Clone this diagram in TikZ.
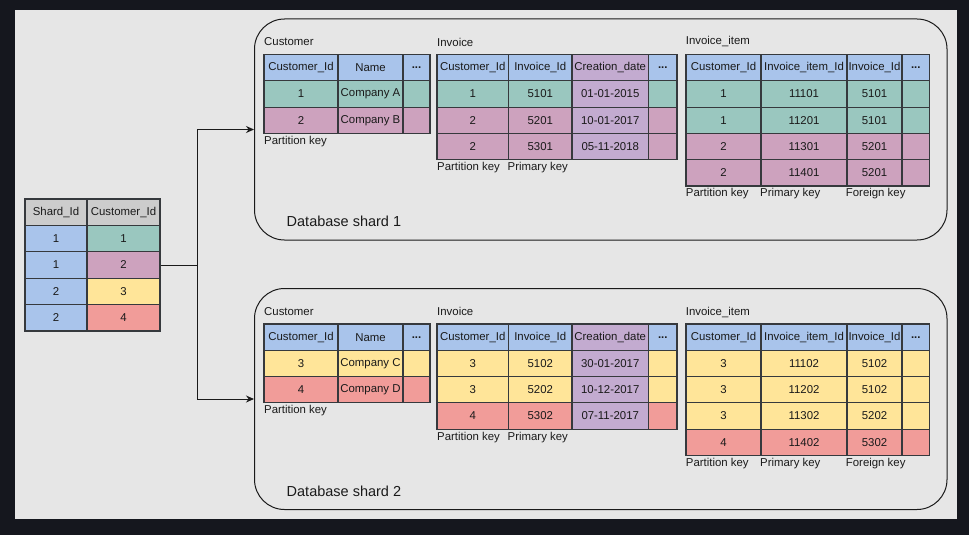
\documentclass[tikz,border=0pt]{standalone}
\usepackage{fontspec}
\setmainfont{Liberation Sans}
\usetikzlibrary{arrows.meta}
\definecolor{darkbg}{HTML}{15171E}
\definecolor{lightbg}{HTML}{E6E6E6}
\definecolor{blu}{HTML}{A9C4EB}
\definecolor{grn}{HTML}{9AC7BF}
\definecolor{pnk}{HTML}{CDA2BE}
\definecolor{yel}{HTML}{FFE599}
\definecolor{rdd}{HTML}{F19C99}
\definecolor{prp}{HTML}{C3ABD0}
\definecolor{gry}{HTML}{CCCCCC}
\definecolor{tabline}{HTML}{36393D}
\definecolor{txt}{HTML}{1A1A1A}
\newcommand\trow[4]{%
  \foreach \xa/\xb/\f/\t [count=\i] in {#4} {%
    \node[tcell, fill=\f, minimum width={(\xb-\xa)*1pt}, minimum height={(#3-#2)*1pt}]
      (#1-\i) at ({(\xa+\xb)/2},{(#2+#3)/2}) {\t};}}
\begin{document}
\begin{tikzpicture}[x=1pt,y=-1pt,
  tcell/.style={draw=tabline, line width=1.1pt, inner sep=0pt, text=txt,
    font=\fontsize{11.4}{13}\selectfont},
  lbl/.style={anchor=west, inner sep=0pt, text=txt, font=\fontsize{11.4}{13}\selectfont},
  biglbl/.style={anchor=west, inner sep=0pt, text=txt, font=\fontsize{14.5}{17}\selectfont},
  shardbox/.style={draw=txt, line width=1pt, rounded corners=30pt, inner sep=0pt},
  conn/.style={draw=txt, line width=1pt},
  tip/.style={-{Stealth[length=8pt,width=7pt]}}]
\useasboundingbox (0,0) rectangle (969,535);
\fill[darkbg] (0,0) rectangle (969,535);
\fill[lightbg] (15,10) rectangle (957,519);

% shard boxes
\node[shardbox, minimum width=692.5pt, minimum height=221pt] (shard1) at ({(254.5+947)/2},{(19+240)/2}) {};
\node[shardbox, minimum width=692.5pt, minimum height=221pt] (shard2) at ({(254.5+947)/2},{(288.5+509.5)/2}) {};
\node[biglbl] (shard1lbl) at (286.5,221) {Database shard 1};
\node[biglbl] (shard2lbl) at (286.5,491) {Database shard 2};

% shard map table
\trow{sh}{199}{225.4}{25/87/gry/Shard\_Id, 87/160/gry/Customer\_Id}
\trow{s1}{225.4}{251.8}{25/87/blu/1, 87/160/grn/1}
\trow{s2}{251.8}{278.2}{25/87/blu/1, 87/160/pnk/2}
\trow{s3}{278.2}{304.6}{25/87/blu/2, 87/160/yel/3}
\trow{s4}{304.6}{331}{25/87/blu/2, 87/160/rdd/4}

% connectors
\coordinate (junc) at (197,265);
\draw[conn] (s2-2.east) -- (junc);
\draw[conn, tip] (junc) |- (shard1.west);
\draw[conn, tip] (junc) |- (shard2.west);

% ===== shard 1 =====
\node[lbl] (c1t) at (264,42) {Customer};
\trow{c1h}{54.5}{80.8}{264/338/blu/Customer\_Id, 338/403/blu/Name, 403/430/blu/\textbf{...}}
\trow{c1a}{80.8}{107.1}{264/338/grn/1, 338/403/grn/Company A, 403/430/grn/}
\trow{c1b}{107.1}{133.4}{264/338/pnk/2, 338/403/pnk/Company B, 403/430/pnk/}
\node[lbl] (c1k) at (264,142) {Partition key};

\node[lbl] (i1t) at (437,42) {Invoice};
\trow{i1h}{54.5}{80.8}{437/508.5/blu/Customer\_Id, 508.5/572/blu/Invoice\_Id, 572/648.5/prp/Creation\_date, 648.5/677/blu/\textbf{...}}
\trow{i1a}{80.8}{107.1}{437/508.5/grn/1, 508.5/572/grn/5101, 572/648.5/prp/01-01-2015, 648.5/677/grn/}
\trow{i1b}{107.1}{133.4}{437/508.5/pnk/2, 508.5/572/pnk/5201, 572/648.5/prp/10-01-2017, 648.5/677/pnk/}
\trow{i1c}{133.4}{159.7}{437/508.5/pnk/2, 508.5/572/pnk/5301, 572/648.5/prp/05-11-2018, 648.5/677/pnk/}
\node[lbl] (i1k1) at (437,167.7) {Partition key};
\node[lbl] (i1k2) at (507.5,167.7) {Primary key};

\node[lbl] (t1t) at (685.7,42) {Invoice\_item};
\trow{t1h}{54.5}{80.8}{686/761/blu/Customer\_Id, 761/847/blu/Invoice\_item\_Id, 847/902/blu/Invoice\_Id, 902/929.5/blu/\textbf{...}}
\trow{t1a}{80.8}{107.1}{686/761/grn/1, 761/847/grn/11101, 847/902/grn/5101, 902/929.5/grn/}
\trow{t1b}{107.1}{133.4}{686/761/grn/1, 761/847/grn/11201, 847/902/grn/5101, 902/929.5/grn/}
\trow{t1c}{133.4}{159.7}{686/761/pnk/2, 761/847/pnk/11301, 847/902/pnk/5201, 902/929.5/pnk/}
\trow{t1d}{159.7}{186}{686/761/pnk/2, 761/847/pnk/11401, 847/902/pnk/5201, 902/929.5/pnk/}
\node[lbl] (t1k1) at (685.7,194) {Partition key};
\node[lbl] (t1k2) at (760,194) {Primary key};
\node[lbl] (t1k3) at (845.7,194) {Foreign key};

% ===== shard 2 =====
\node[lbl] (c2t) at (264,311.5) {Customer};
\trow{c2h}{324}{350.3}{264/338/blu/Customer\_Id, 338/403/blu/Name, 403/430/blu/\textbf{...}}
\trow{c2a}{350.3}{376.6}{264/338/yel/3, 338/403/yel/Company C, 403/430/yel/}
\trow{c2b}{376.6}{402.9}{264/338/rdd/4, 338/403/rdd/Company D, 403/430/rdd/}
\node[lbl] (c2k) at (264,411) {Partition key};

\node[lbl] (i2t) at (437,311) {Invoice};
\trow{i2h}{324}{350.3}{437/508.5/blu/Customer\_Id, 508.5/572/blu/Invoice\_Id, 572/648.5/prp/Creation\_date, 648.5/677/blu/\textbf{...}}
\trow{i2a}{350.3}{376.6}{437/508.5/yel/3, 508.5/572/yel/5102, 572/648.5/prp/30-01-2017, 648.5/677/yel/}
\trow{i2b}{376.6}{402.9}{437/508.5/yel/3, 508.5/572/yel/5202, 572/648.5/prp/10-12-2017, 648.5/677/yel/}
\trow{i2c}{402.9}{429.2}{437/508.5/rdd/4, 508.5/572/rdd/5302, 572/648.5/prp/07-11-2017, 648.5/677/rdd/}
\node[lbl] (i2k1) at (437,437.2) {Partition key};
\node[lbl] (i2k2) at (507.5,437.2) {Primary key};

\node[lbl] (t2t) at (685.7,312) {Invoice\_item};
\trow{t2h}{324}{350.3}{686/761/blu/Customer\_Id, 761/847/blu/Invoice\_item\_Id, 847/902/blu/Invoice\_Id, 902/929.5/blu/\textbf{...}}
\trow{t2a}{350.3}{376.6}{686/761/yel/3, 761/847/yel/11102, 847/902/yel/5102, 902/929.5/yel/}
\trow{t2b}{376.6}{402.9}{686/761/yel/3, 761/847/yel/11202, 847/902/yel/5102, 902/929.5/yel/}
\trow{t2c}{402.9}{429.2}{686/761/yel/3, 761/847/yel/11302, 847/902/yel/5202, 902/929.5/yel/}
\trow{t2d}{429.2}{455.5}{686/761/rdd/4, 761/847/rdd/11402, 847/902/rdd/5302, 902/929.5/rdd/}
\node[lbl] (t2k1) at (685.7,463.5) {Partition key};
\node[lbl] (t2k2) at (760,463.5) {Primary key};
\node[lbl] (t2k3) at (845.7,463.5) {Foreign key};
\end{tikzpicture}
\end{document}
